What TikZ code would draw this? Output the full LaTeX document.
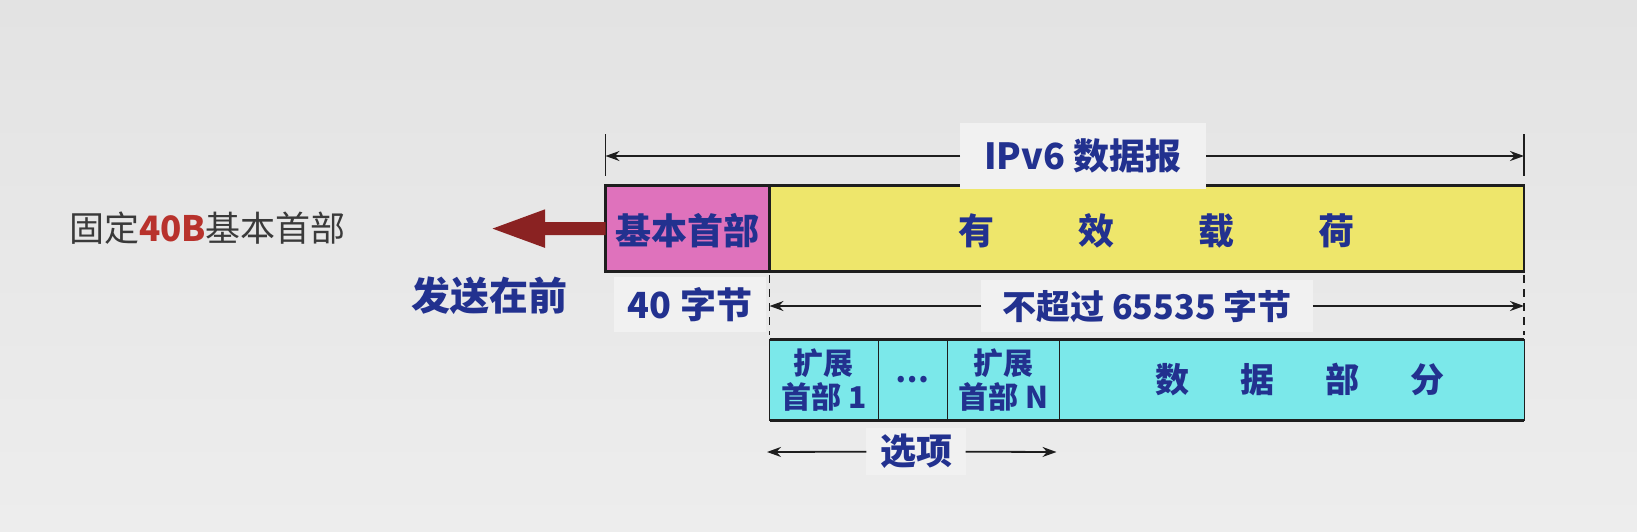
\documentclass[tikz,border=0pt]{standalone}
\usepackage{fontspec}
\newfontfamily\cjk{Noto Sans CJK SC}
\usetikzlibrary{arrows.meta,positioning,calc}
\definecolor{bgtop}{HTML}{E3E3E3}
\definecolor{bgbottom}{HTML}{EDEDED}
\definecolor{labelbg}{HTML}{F1F1F1}
\definecolor{navy}{HTML}{22318F}
\definecolor{ink}{HTML}{1E1E1E}
\definecolor{graytext}{HTML}{3A3A3A}
\definecolor{hdrpink}{HTML}{DF72BC}
\definecolor{payyellow}{HTML}{EEE66B}
\definecolor{datacyan}{HTML}{7BE8EA}
\definecolor{arrowred}{HTML}{8A2222}
\definecolor{boldred}{HTML}{B8322C}
\tikzset{
  >={Stealth[length=7pt,width=5pt]},
  every node/.style={font=\cjk\bfseries\fontsize{18pt}{20pt}\selectfont,text=navy,inner sep=0pt,outer sep=0pt},
  field/.style={draw=ink,line width=1.4pt,minimum height=42.8pt,anchor=north west},
  hdrfield/.style={field,fill=hdrpink},
  payfield/.style={field,fill=payyellow},
  subfield/.style={draw=ink,line width=0.5pt,fill=datacyan,minimum height=40.7pt,anchor=north west,align=center,
    font=\cjk\bfseries\fontsize{15pt}{17pt}\selectfont},
  dimlabel/.style={fill=labelbg},
  dimline/.style={->,line width=0.9pt,draw=ink},
  tickline/.style={line width=0.9pt,draw=ink},
  dashtick/.style={tickline,dashed,dash pattern=on 4pt off 3pt},
  sendarrow/.style={draw=arrowred,line width=6.5pt,-{Triangle[length=28pt,width=17pt]}}
}
\begin{document}
\begin{tikzpicture}[x=0.5pt,y=-0.5pt]
  \useasboundingbox (0,0) rectangle (1637,531);
  \shade[top color=bgtop,bottom color=bgbottom] (0,0) rectangle (1637,531);

  % datagram: basic header + payload
  \node[hdrfield,minimum width=82pt,text depth=-4pt] (hdr) at (605.5,185.8) {基本首部};
  \node[payfield,minimum width=377.25pt,right=0pt of hdr,text depth=-5pt] (payload)
    {\hspace{10pt}有\hspace{42pt}效\hspace{42pt}载\hspace{42pt}荷};

  % extension headers + data
  \node[subfield,minimum width=54.25pt] (ext1) at (769.5,339.3) {扩展\\首部 1};
  \node[subfield,minimum width=34.5pt,right=0pt of ext1] (dots) {…};
  \node[subfield,minimum width=56.35pt,right=0pt of dots] (extN) {扩展\\首部 N};
  \node[subfield,minimum width=232.15pt,right=0pt of extN,font=\cjk\bfseries\fontsize{17pt}{19pt}\selectfont] (data)
    {\hspace{8pt}数\hspace{25.5pt}据\hspace{25.5pt}部\hspace{25.5pt}分};
  \draw[ink,line width=1.4pt] (ext1.north west) -- (data.north east);
  \draw[ink,line width=1.4pt] (ext1.south west) -- (data.south east);

  % whole datagram
  \coordinate (dgL) at (605.5,156);
  \coordinate (dgR) at (1524,156);
  \draw[tickline] ($(dgL)+(0,-22)$) -- ($(dgL)+(0,20)$);
  \draw[tickline] ($(dgR)+(0,-22)$) -- ($(dgR)+(0,20)$);
  \node[dimlabel,minimum width=123pt,minimum height=33pt] (dglabel) at (1083,156) {IPv6 数据报};
  \draw[dimline] (dglabel) -- (dgL);
  \draw[dimline] (dglabel) -- (dgR);

  % header and payload lengths
  \coordinate (plL) at (769.5,306);
  \coordinate (plR) at (1524,306);
  \draw[dashtick] (payload.south west) ++(0,4) -- ++(0,60);
  \draw[dashtick] (payload.south east) ++(0,4) -- ++(0,60);
  \node[dimlabel,minimum width=76pt,minimum height=27.6pt] (hdrlen) at (690,304.5) {40 字节};
  \node[dimlabel,minimum width=165.75pt,minimum height=26pt,font=\cjk\bfseries\fontsize{17pt}{19pt}\selectfont] (maxlen) at (1147,306) {不超过 65535 字节};
  \draw[dimline] (maxlen) -- (plL);
  \draw[dimline] (maxlen) -- (plR);

  % options
  \coordinate (optL) at (767,452);
  \coordinate (optR) at (1056.5,452);
  \node[dimlabel,minimum width=49.6pt,minimum height=23.5pt] (optlabel) at (916,451.5) {选项};
  \draw[dimline] (optlabel) -- (optL);
  \draw[dimline] (optlabel) -- (optR);

  % sent first
  \coordinate (sendtip) at (489,228.6);
  \draw[sendarrow] (hdr.west) -- (sendtip);
  \node[font=\cjk\fontsize{17.5pt}{20pt}\selectfont,text=graytext,anchor=west] (fixnote) at (69,228)
    {固定{\bfseries\color{boldred}40B}基本首部};
  \node[font=\cjk\bfseries\fontsize{19.5pt}{21pt}\selectfont] (sendnote) at (489,295.5) {发送在前};
\end{tikzpicture}
\end{document}
